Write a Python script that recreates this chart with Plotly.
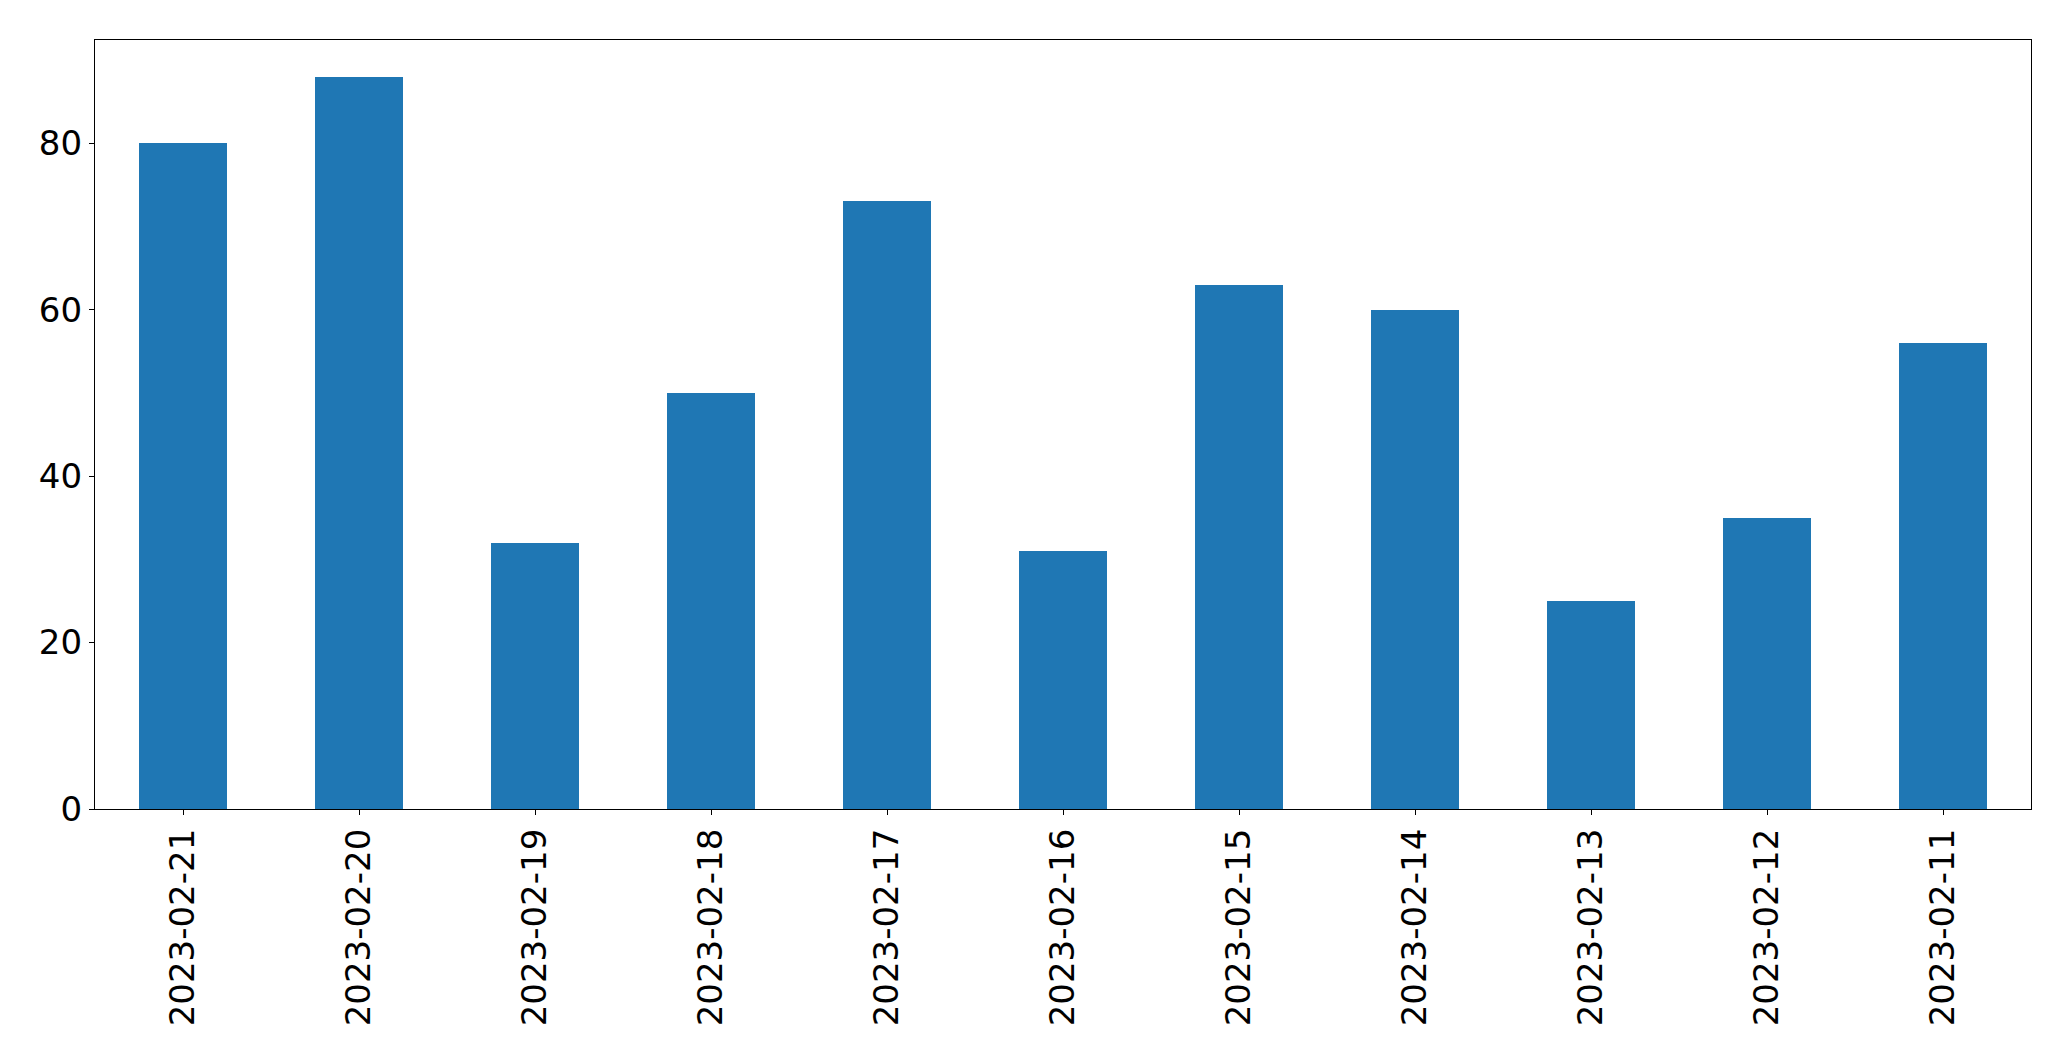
import plotly.graph_objects as go

dates = ["2023-02-21", "2023-02-20", "2023-02-19", "2023-02-18", "2023-02-17",
         "2023-02-16", "2023-02-15", "2023-02-14", "2023-02-13", "2023-02-12",
         "2023-02-11"]
values = [80, 88, 32, 50, 73, 31, 63, 60, 25, 35, 56]
y_ticks = [0, 20, 40, 60, 80]

fig = go.Figure(go.Bar(x=dates, y=values, marker=dict(color="#1f77b4", line=dict(width=0)),
                       width=0.5))

axis_common = dict(showline=True, linecolor="black", linewidth=1.3, mirror=True,
                   ticks="outside", ticklen=5, tickwidth=1.3, tickcolor="black",
                   showgrid=False, zeroline=False,
                   tickfont=dict(family="DejaVu Sans", size=34, color="black"))

fig.update_layout(
    width=2063, height=1053,
    margin=dict(l=86.5, r=39.5, t=31.5, b=252, autoexpand=False),
    plot_bgcolor="white", paper_bgcolor="white",
    showlegend=False, bargap=0,
    xaxis=dict(type="category", range=[-0.5, 10.5], tickangle=-90, **axis_common),
    yaxis=dict(range=[0, 92.4], tickvals=y_ticks, ticktext=[str(v) for v in y_ticks],
               **axis_common),
)

fig.write_html("out.html")
